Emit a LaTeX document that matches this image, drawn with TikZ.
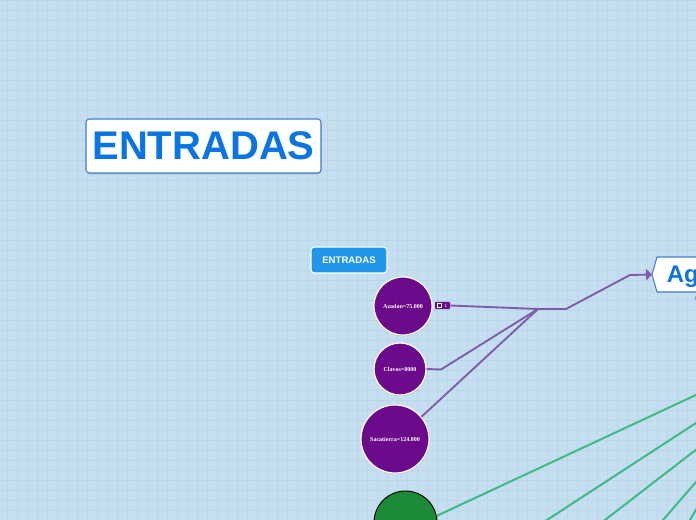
\documentclass[tikz,border=0pt]{standalone}
\usepackage{fontspec}
\setmainfont{Liberation Serif}
\newfontfamily\arialf{Liberation Sans}
\usetikzlibrary{arrows.meta,shadows}
\definecolor{bgc}{HTML}{C5DEF0}
\definecolor{gridc}{HTML}{BBD6EB}
\definecolor{purf}{HTML}{6B0A8A}
\definecolor{purl}{HTML}{7E5CAB}
\definecolor{grnf}{HTML}{1C8A37}
\definecolor{grnl}{HTML}{3DBB84}
\definecolor{bluet}{HTML}{0A74E3}
\definecolor{boxb}{HTML}{3F7FCB}
\definecolor{smallf}{HTML}{2097E8}
\tikzset{
  gridline/.style={draw=gridc, line width=0.45pt},
  bigbox/.style={draw=boxb, line width=0.8pt, fill=white, rounded corners=2.5pt,
    minimum width=176.25pt, minimum height=40.5pt, inner sep=0pt,
    text=bluet, font=\arialf\bfseries\fontsize{30}{36}\selectfont,
    drop shadow={shadow xshift=0.4pt, shadow yshift=-1pt, opacity=0.35}},
  smallbox/.style={draw=white, line width=0.9pt, fill=smallf, rounded corners=2.5pt,
    minimum width=57pt, minimum height=19.5pt, inner sep=0pt,
    text=white, font=\arialf\bfseries\fontsize{7.2}{8}\selectfont},
  pcirc/.style={circle, draw=white, line width=0.9pt, fill=purf, inner sep=0pt,
    text=white, font=\bfseries\fontsize{4.5}{5}\selectfont,
    drop shadow={shadow xshift=0.3pt, shadow yshift=-0.8pt, opacity=0.3}},
  gcirc/.style={circle, draw=black, line width=0.7pt, fill=grnf, inner sep=0pt},
  badge/.style={draw=none, fill=purf, rounded corners=0.8pt, minimum width=11.25pt,
    minimum height=5.4pt, inner sep=0pt},
  pline/.style={draw=purl, line width=1.4pt, line join=round},
  gline/.style={draw=grnl, line width=1.5pt},
  agbox/.style={draw=boxb, line width=0.8pt, fill=white, line join=round},
}
\begin{document}
\begin{tikzpicture}[x=0.75pt,y=-0.75pt]
\useasboundingbox (0,0) rectangle (696,520);
\clip (0,0) rectangle (696,520);
\fill[bgc] (0,0) rectangle (696,520);
\foreach \i in {0,...,69} { \draw[gridline] (\i*10+7,0) -- (\i*10+7,520); }
\foreach \j in {0,...,52} { \draw[gridline] (0,\j*10) -- (696,\j*10); }

% title
\node[bigbox] (title) at (203.5,146) {ENTRADAS};
\node[smallbox] (sub) at (349,260) {ENTRADAS};

% circles
\node[pcirc, minimum size=43.5pt] (azadon) at (403,306) {Azadon=75.000};
\node[pcirc, minimum size=39pt] (clavos) at (400,369) {Clavos=8000};
\node[pcirc, minimum size=51pt] (saca) at (395,439) {Sacatierra=124.000};
\node[gcirc, minimum size=47.25pt] (gr) at (405.5,522.5) {};

% badge
\node[badge] (bd) at (442.5,305.5) {};
\draw[white, line width=0.5pt] (437.8,303.6) rectangle (441.4,307.2);
\node[text=white, inner sep=0pt, font=\arialf\fontsize{3.5}{4}\selectfont] (bdn) at (446,305.8) {1};

% Ag node
\draw[agbox] (652,274.5) -- (657,257) -- (720,257) -- (720,292) -- (657,292) -- cycle;
\coordinate (agtip) at (652,274.5);
\node[anchor=base west, inner sep=0pt, text=bluet, font=\arialf\bfseries\fontsize{18}{20}\selectfont] (ag) at (666.5,283) {Ag};
\draw[boxb!80, dashed, line width=0.6pt] (700.5,299) circle (5.5);

% purple connectors
\coordinate (jn) at (538,309);
\coordinate (j2) at (566,309);
\coordinate (k) at (630,275);
\coordinate (cl) at (441,369.5);
\draw[pline, -{Triangle[length=4.5pt, width=8.5pt]}] (bd.east) -- (jn) -- (j2) -- (k) -- (agtip);
\draw[pline] (clavos.east) -- (cl) -- (jn);
\draw[pline] (saca.40) -- (jn);

% green connectors
\coordinate (g1e) at (706,390.3);
\coordinate (g2s) at (531.6,530);
\coordinate (g2e) at (706,416.5);
\coordinate (g3s) at (592,530);
\coordinate (g3e) at (706,442);
\coordinate (g4s) at (654.3,530);
\coordinate (g4e) at (706,470.5);
\coordinate (g5s) at (684,530);
\coordinate (g5e) at (706,493);
\draw[gline] (gr.12) -- (g1e);
\draw[gline] (g2s) -- (g2e);
\draw[gline] (g3s) -- (g3e);
\draw[gline] (g4s) -- (g4e);
\draw[gline] (g5s) -- (g5e);
\end{tikzpicture}
\end{document}
